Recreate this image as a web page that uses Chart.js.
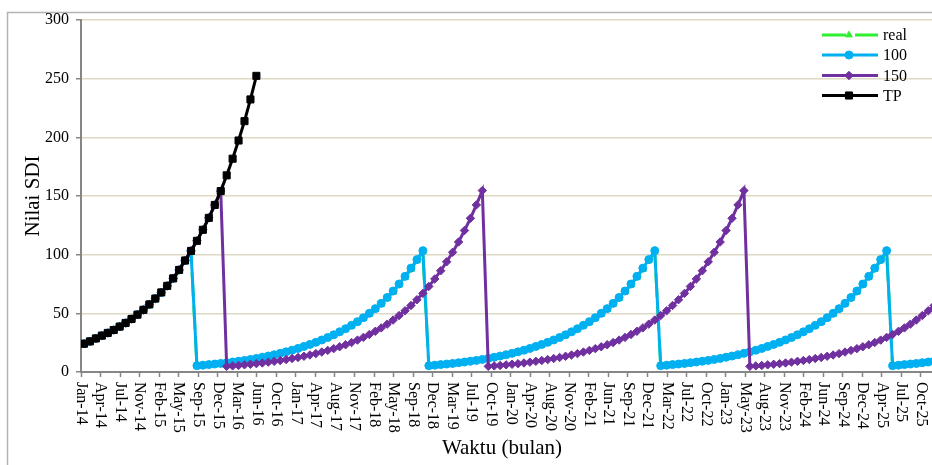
<!DOCTYPE html>
<html>
<head>
<meta charset="utf-8">
<title>Nilai SDI</title>
<script src="https://cdn.jsdelivr.net/npm/chart.js@4.4.0/dist/chart.umd.min.js"></script>
<style>
  html, body { margin: 0; padding: 0; overflow: hidden; background: #fff; width: 932px; height: 465px; }
  #wrap { position: absolute; left: 0; top: 0; width: 961px; height: 465px; }
</style>
</head>
<body>
<div id="wrap"><canvas id="c" width="961" height="465"></canvas></div>
<script>
// Date-axis labels, one every 100 days starting Jan-14
const tickLabels = [
  'Jan-14','Apr-14','Jul-14','Nov-14','Feb-15','May-15','Sep-15','Dec-15','Mar-16','Jun-16',
  'Oct-16','Jan-17','Apr-17','Aug-17','Nov-17','Feb-18','May-18','Sep-18','Dec-18','Mar-19',
  'Jul-19','Oct-19','Jan-20','Apr-20','Aug-20','Nov-20','Feb-21','Jun-21','Sep-21','Dec-21',
  'Mar-22','Jul-22','Oct-22','Jan-23','May-23','Aug-23','Nov-23','Feb-24','Jun-24','Sep-24',
  'Dec-24','Apr-25','Jul-25','Oct-25'
];

// Monthly SDI values, first entry = Jan-14
const seriesTP = [
  24.1, 26.1, 28.6, 31.0, 33.3, 35.8, 38.7, 41.8, 45.2, 48.9, 53.0, 57.6, 62.6, 67.8, 73.4,
  79.8, 87.0, 95.0, 103.2, 111.8, 121.2, 131.4, 142.4, 154.2, 167.6, 181.8, 197.3, 213.8, 232.3, 252.4
];

const series100 = [
  24.1, 26.1, 28.6, 31.0, 33.3, 35.8, 38.7, 41.8, 45.2, 48.9, 53.0, 57.6, 62.6, 67.8, 73.4,
  79.8, 87.0, 95.0, 103.2,
  5.4, 5.8, 6.3, 6.8, 7.3, 7.9, 8.5, 9.2, 9.9, 10.7, 11.6, 12.6, 13.6, 14.7, 15.9, 17.2, 18.6,
  20.1, 21.8, 23.5, 25.3, 27.3, 29.4, 31.7, 34.2, 36.9, 39.8, 42.9, 46.3, 50.0, 54.0, 58.5,
  63.5, 69.0, 75.0, 81.5, 88.5, 95.8, 103.4,
  5.4, 5.8, 6.3, 6.8, 7.3, 7.9, 8.5, 9.2, 9.9, 10.7, 11.6, 12.6, 13.6, 14.7, 15.9, 17.2, 18.6,
  20.1, 21.8, 23.5, 25.3, 27.3, 29.4, 31.7, 34.2, 36.9, 39.8, 42.9, 46.3, 50.0, 54.0, 58.5,
  63.5, 69.0, 75.0, 81.5, 88.5, 95.8, 103.4,
  5.4, 5.8, 6.3, 6.8, 7.3, 7.9, 8.5, 9.2, 9.9, 10.7, 11.6, 12.6, 13.6, 14.7, 15.9, 17.2, 18.6,
  20.1, 21.8, 23.5, 25.3, 27.3, 29.4, 31.7, 34.2, 36.9, 39.8, 42.9, 46.3, 50.0, 54.0, 58.5,
  63.5, 69.0, 75.0, 81.5, 88.5, 95.8, 103.4,
  5.4, 5.8, 6.3, 6.8, 7.3, 7.9, 8.5, 9.2, 9.9, 10.7
];

const series150 = [
  24.1, 26.1, 28.6, 31.0, 33.3, 35.8, 38.7, 41.8, 45.2, 48.9, 53.0, 57.6, 62.6, 67.8, 73.4,
  79.8, 87.0, 95.0, 103.2, 111.8, 121.2, 131.4, 142.4, 154.2,
  4.8, 5.2, 5.6, 6.1, 6.6, 7.1, 7.7, 8.4, 9.1, 9.8, 10.6, 11.5, 12.4, 13.4, 14.5, 15.7, 17.0,
  18.4, 19.9, 21.5, 23.2, 25.1, 27.2, 29.5, 32.0, 34.7, 37.6, 40.8, 44.3, 48.1, 52.2, 56.7,
  61.6, 67.0, 72.9, 79.3, 86.3, 93.9, 102.0, 110.8, 120.6, 131.0, 142.4, 154.6,
  4.8, 5.2, 5.6, 6.1, 6.6, 7.1, 7.7, 8.4, 9.1, 9.8, 10.6, 11.5, 12.4, 13.4, 14.5, 15.7, 17.0,
  18.4, 19.9, 21.5, 23.2, 25.1, 27.2, 29.5, 32.0, 34.7, 37.6, 40.8, 44.3, 48.1, 52.2, 56.7,
  61.6, 67.0, 72.9, 79.3, 86.3, 93.9, 102.0, 110.8, 120.6, 131.0, 142.4, 154.6,
  4.8, 5.2, 5.6, 6.1, 6.6, 7.1, 7.7, 8.4, 9.1, 9.8, 10.6, 11.5, 12.4, 13.4, 14.5, 15.7, 17.0,
  18.4, 19.9, 21.5, 23.2, 25.1, 27.2, 29.5, 32.0, 34.7, 37.6, 40.8, 44.3, 48.1, 52.2, 56.7,
  61.6, 67.0
];

const seriesReal = [
  23.6, 25.6, 28.1, 30.5, 32.8, 35.2, 38.1, 41.2, 44.6, 48.2, 52.3, 56.9, 61.8, 67.0, 72.6,
  79.0, 86.1, 94.1, 102.2,
  5.1, 5.5, 6.0, 6.5, 7.0, 7.6, 8.2, 8.9, 9.6, 10.4, 11.3, 12.2, 13.2, 14.3, 15.5, 16.8, 18.2,
  19.7, 21.3, 23.0, 24.8, 26.8, 28.9, 31.1, 33.6, 36.3, 39.1, 42.2, 45.5, 49.2, 53.2, 57.6,
  62.6, 68.0, 74.0, 80.4, 87.4, 94.7, 102.3,
  5.1, 5.5, 6.0, 6.5, 7.0, 7.6, 8.2, 8.9, 9.6, 10.4, 11.3, 12.2, 13.2, 14.3, 15.5, 16.8, 18.2,
  19.7, 21.3, 23.0, 24.8, 26.8, 28.9, 31.1, 33.6, 36.3, 39.1, 42.2, 45.5, 49.2, 53.2, 57.6,
  62.6, 68.0, 74.0, 80.4, 87.4, 94.7, 102.3,
  5.1, 5.5, 6.0, 6.5, 7.0, 7.6, 8.2, 8.9, 9.6, 10.4, 11.3, 12.2, 13.2, 14.3, 15.5, 16.8, 18.2,
  19.7, 21.3, 23.0, 24.8, 26.8, 28.9, 31.1, 33.6, 36.3, 39.1, 42.2, 45.5, 49.2, 53.2, 57.6,
  62.6, 68.0, 74.0, 80.4, 87.4, 94.7, 102.3,
  5.1, 5.5, 6.0, 6.5, 7.0, 7.6, 8.2, 8.9, 9.6, 10.4
];

// x runs in months from 1 Jan 2014; ticks every 100 days, points at mid-month
const TICK_STEP = 100 / 30.4375;
const X_MAX = 147;
const SERIF = "'Liberation Serif', 'Times New Roman', serif";
const AXIS_GREY = '#868686';
const GRID_TAN = '#ddd9c4';

function toPoints(values) {
  return values.map((v, i) => ({ x: i + 0.5, y: v }));
}

const datasets = [
  { label: 'real', data: toPoints(seriesReal), borderColor: '#2ef02e', backgroundColor: '#2ef02e',
    borderWidth: 3, borderDash: [24, 9], pointStyle: 'triangle', pointRadius: 3.8, pointBorderWidth: 1, order: 3 },
  { label: '100', data: toPoints(series100), borderColor: '#00b0f0', backgroundColor: '#00b0f0',
    borderWidth: 3, pointStyle: 'circle', pointRadius: 4, pointBorderWidth: 1, order: 2 },
  { label: '150', data: toPoints(series150), borderColor: '#7030a0', backgroundColor: '#7030a0',
    borderWidth: 3, pointStyle: 'rectRot', pointRadius: 4.2, pointBorderWidth: 1, order: 1 },
  { label: 'TP', data: toPoints(seriesTP), borderColor: '#000000', backgroundColor: '#000000',
    borderWidth: 3, pointStyle: 'rect', pointRadius: 5, pointBorderWidth: 1, order: 0 }
];

// Frame, rotated date labels, axis titles and the line+marker legend
const decorations = {
  id: 'decorations',
  beforeDraw(chart) {
    const ctx = chart.ctx;
    ctx.save();
    ctx.fillStyle = '#ffffff';
    ctx.fillRect(0, 0, chart.width, chart.height);
    ctx.strokeStyle = '#b4b4b4';
    ctx.lineWidth = 1.5;
    ctx.strokeRect(7.5, 12.5, 1200, 1200);
    ctx.restore();
  },
  afterDraw(chart) {
    const ctx = chart.ctx;
    const xs = chart.scales.x;
    ctx.save();
    ctx.fillStyle = '#000';
    ctx.font = '16px ' + SERIF;
    ctx.textAlign = 'left';
    ctx.textBaseline = 'middle';
    tickLabels.forEach((lab, k) => {
      const px = xs.getPixelForValue(k * TICK_STEP);
      ctx.save();
      ctx.translate(px, 382);
      ctx.rotate(Math.PI / 2);
      ctx.fillText(lab, 0, 0);
      ctx.restore();
    });

    ctx.font = '21px ' + SERIF;
    ctx.textAlign = 'center';
    ctx.fillText('Waktu (bulan)', 502, 448);
    ctx.save();
    ctx.translate(33, 196);
    ctx.rotate(-Math.PI / 2);
    ctx.fillText('Nilai SDI', 0, 0);
    ctx.restore();

    // legend
    const rows = [35, 55, 75.5, 95.5];
    ctx.font = '16px ' + SERIF;
    ctx.textAlign = 'left';
    chart.data.datasets.forEach((ds, i) => {
      const y = rows[i];
      ctx.save();
      ctx.strokeStyle = ds.borderColor;
      ctx.lineWidth = ds.borderWidth;
      ctx.setLineDash(ds.borderDash || []);
      ctx.beginPath();
      ctx.moveTo(822, y);
      ctx.lineTo(878, y);
      ctx.stroke();
      ctx.setLineDash([]);
      ctx.fillStyle = ds.backgroundColor;
      ctx.strokeStyle = ds.borderColor;
      ctx.lineWidth = ds.pointBorderWidth;
      Chart.helpers.drawPoint(ctx, {
        pointStyle: ds.pointStyle, radius: ds.pointRadius, rotation: 0, borderWidth: ds.pointBorderWidth
      }, 849, y);
      ctx.restore();
      ctx.fillStyle = '#000';
      ctx.fillText(ds.label, 883, y + 1);
    });
    ctx.restore();
  }
};

new Chart(document.getElementById('c'), {
  type: 'line',
  data: { datasets },
  plugins: [decorations],
  options: {
    responsive: false,
    animation: false,
    devicePixelRatio: 1,
    layout: { padding: { top: 20, right: 0, bottom: 0, left: 0 } },
    elements: { line: { tension: 0 } },
    plugins: { legend: { display: false }, tooltip: { enabled: false } },
    scales: {
      x: {
        type: 'linear',
        min: 0,
        max: X_MAX,
        afterBuildTicks(scale) {
          scale.ticks = tickLabels.map((_, k) => ({ value: k * TICK_STEP }));
        },
        afterFit(scale) { scale.height = 93; },
        ticks: { display: false },
        grid: { drawOnChartArea: false, drawTicks: true, tickLength: 5, tickColor: AXIS_GREY, tickWidth: 1.5 },
        border: { display: true, color: AXIS_GREY, width: 2 }
      },
      y: {
        min: 0,
        max: 300,
        afterFit(scale) { scale.width = 81; },
        ticks: { stepSize: 50, color: '#000', padding: 7, font: { family: SERIF, size: 16 } },
        grid: { color: GRID_TAN, lineWidth: 1.5, tickLength: 5, tickColor: AXIS_GREY, tickWidth: 1.5 },
        border: { display: true, color: AXIS_GREY, width: 2 }
      }
    }
  }
});
</script>
</body>
</html>
